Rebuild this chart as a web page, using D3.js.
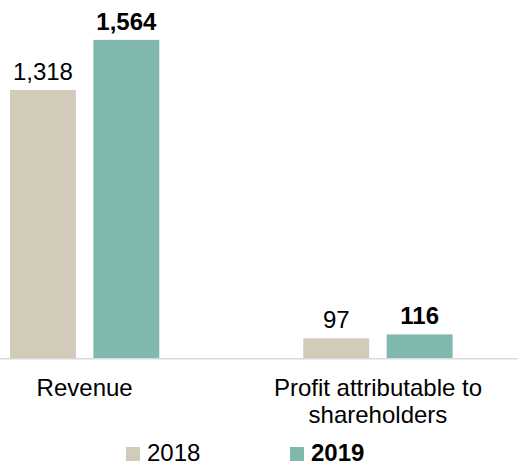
<!DOCTYPE html>
<html>
<head>
<meta charset="utf-8">
<script src="https://cdn.jsdelivr.net/npm/d3@7"></script>
<style>
  body { margin: 0; background: #fff; }
  text { font-family: "Liberation Sans", Arial, sans-serif; fill: #000; }
</style>
</head>
<body>
<div id="chart"></div>
<script>
// chart data
const categories = ["Revenue", "Profit attributable to\nshareholders"];
const years = ["2018", "2019"];
const values2018 = [1318, 97];
const values2019 = [1564, 116];
const valueLabels2018 = ["1,318", "97"];
const valueLabels2019 = ["1,564", "116"];

const colors = { "2018": "#d2cbb9", "2019": "#80b8ae" };

const width = 518, height = 466;
const baseline = 358;

const svg = d3.select("#chart").append("svg")
    .attr("width", width)
    .attr("height", height);

// group scale (plot area is wider than the view on the left)
const x0 = d3.scaleBand().domain(categories).range([-62, 524.6]).padding(0);
const x1 = d3.scaleBand().domain(years).range([72, 221.3]).paddingInner(0.21);
const y = d3.scaleLinear().domain([0, 1760]).range([baseline, 0]);

const rows = categories.map((c, i) => ({
    cat: c,
    bars: [
        { year: "2018", value: values2018[i], label: valueLabels2018[i], bold: false },
        { year: "2019", value: values2019[i], label: valueLabels2019[i], bold: true }
    ]
}));

const groups = svg.selectAll("g.group")
    .data(rows)
    .join("g")
    .attr("class", "group")
    .attr("transform", d => `translate(${x0(d.cat)},0)`);

groups.selectAll("rect")
    .data(d => d.bars)
    .join("rect")
    .attr("x", d => x1(d.year))
    .attr("y", d => y(d.value))
    .attr("width", x1.bandwidth())
    .attr("height", d => y(0) - y(d.value))
    .attr("fill", d => colors[d.year]);

groups.selectAll("text.value")
    .data(d => d.bars)
    .join("text")
    .attr("class", "value")
    .attr("x", d => x1(d.year) + x1.bandwidth() / 2)
    .attr("y", d => y(d.value) - 10)
    .attr("text-anchor", "middle")
    .attr("font-size", 24)
    .attr("font-weight", d => d.bold ? "bold" : "normal")
    .text(d => d.label);

// baseline
svg.append("line")
    .attr("x1", 0).attr("x2", width)
    .attr("y1", baseline + 0.75).attr("y2", baseline + 0.75)
    .attr("stroke", "#d9d9d9")
    .attr("stroke-width", 1.5);

// category labels
const catLabels = svg.selectAll("text.cat")
    .data(categories)
    .join("text")
    .attr("class", "cat")
    .attr("text-anchor", "middle")
    .attr("font-size", 24)
    .attr("x", d => x0(d) + x0.bandwidth() / 2)
    .attr("y", 396);

catLabels.each(function (d) {
    const t = d3.select(this);
    d.split("\n").forEach((line, i) => {
        t.append("tspan")
            .attr("x", x0(d) + x0.bandwidth() / 2)
            .attr("dy", i === 0 ? 0 : 26.7)
            .text(line);
    });
});

// legend
const legendX = { "2018": 126, "2019": 290 };
const legend = svg.selectAll("g.legend")
    .data(years)
    .join("g")
    .attr("class", "legend")
    .attr("transform", d => `translate(${legendX[d]},0)`);

legend.append("rect")
    .attr("x", 0).attr("y", 447)
    .attr("width", 14).attr("height", 14)
    .attr("fill", d => colors[d]);

legend.append("text")
    .attr("x", 21)
    .attr("y", 461)
    .attr("font-size", 24)
    .attr("font-weight", d => d === "2019" ? "bold" : "normal")
    .text(d => d);
</script>
</body>
</html>
